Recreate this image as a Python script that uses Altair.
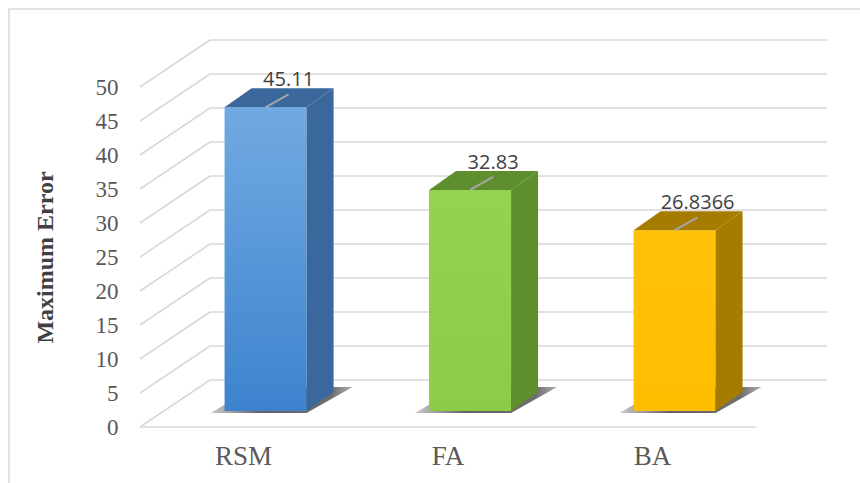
import altair as alt
import pandas as pd

# ---------------- data ----------------
categories = ["RSM", "FA", "BA"]
values = [45.11, 32.83, 26.8366]
value_labels = ["45.11", "32.83", "26.8366"]
y_ticks = [0, 5, 10, 15, 20, 25, 30, 35, 40, 45, 50]

# ---------------- style ----------------
front_top = ["#71aae2", "#94d252", "#ffc107"]
front_bottom = ["#3d83ce", "#8ccb48", "#ffbd00"]
side_colors = ["#3a679c", "#5e8e2d", "#a57c00"]
top_colors = ["#4f7eb5", "#6ba534", "#c39500"]
grid_color = "#d9d9d9"
SERIF = "Liberation Serif"

# geometry (pixels -> data units)
PX_X = 204.5            # pixels per category step
PX_Y = 6.8              # pixels per value unit
X_MIN, X_MAX = -0.614, 2.760
Y_MAX = 60
BACK_DX, BACK_DY = 70 / PX_X, 47 / PX_Y      # depth of the back wall
BAR_HALF = 41 / PX_X
BAR_DX, BAR_DY = 27 / PX_X, 19 / PX_Y        # bar depth
BAR_BASE = 16 / PX_Y                          # bar front-face bottom above floor line
BAR_SCALE = 0.99
FRONT_RIGHT = (756 - 265.5) / PX_X
BACK_RIGHT = (827 - 265.5) / PX_X

XS = alt.Scale(domain=[X_MIN, X_MAX], nice=False, zero=False)
YS = alt.Scale(domain=[0, Y_MAX], nice=False, zero=False)
YAX = alt.Axis(values=y_ticks, title="Maximum Error", grid=False, ticks=False, domain=False,
               labelFont=SERIF, labelFontSize=23, labelColor="#595959",
               labelPadding=22, titleFont=SERIF, titleFontSize=24,
               titleFontWeight="bold", titleColor="#404040", titlePadding=38, titleY=238)


def X(f="x"):
    return alt.X(f"{f}:Q", scale=XS, axis=None)


def Y(f="y"):
    return alt.Y(f"{f}:Q", scale=YS, axis=YAX, stack=None)


# ---------------- grid ----------------
grid_rows = []
for v in y_ticks:
    grid_rows.append(dict(x=X_MIN + BACK_DX, x2=BACK_RIGHT, y=v + BACK_DY, y2=v + BACK_DY))
    grid_rows.append(dict(x=X_MIN, x2=X_MIN + BACK_DX, y=v, y2=v + BACK_DY))
grid_rows.append(dict(x=X_MIN, x2=FRONT_RIGHT, y=0, y2=0))
grid = alt.Chart(pd.DataFrame(grid_rows)).mark_rule(color=grid_color, strokeWidth=1.6).encode(
    x=X(), x2="x2:Q", y=Y(), y2="y2:Q")

# ---------------- bars ----------------
rows_side, rows_top, rows_shadow, rows_front, rows_lab = [], [], [], [], []
for i, (c, v, lab) in enumerate(zip(categories, values, value_labels)):
    xl, xr = i - BAR_HALF, i + BAR_HALF
    base = BAR_BASE
    top = BAR_BASE + v * BAR_SCALE
    rows_front.append(dict(cat=c, x=xl, x2=xr, y=base, y2=top))
    rows_side += [dict(cat=c, x=xr, y=base, y2=top),
                  dict(cat=c, x=xr + BAR_DX, y=base + BAR_DY, y2=top + BAR_DY)]
    rows_top += [dict(cat=c, y=top, x=xl, x2=xr),
                 dict(cat=c, y=top + BAR_DY, x=xl + BAR_DX, x2=xr + BAR_DX)]
    rows_shadow += [dict(cat=c, y=base - 2 / PX_Y, x=xl - 14 / PX_X, x2=xr),
                    dict(cat=c, y=base + 24 / PX_Y, x=xl + 30 / PX_X, x2=xr + 46 / PX_X)]
    rows_lab.append(dict(cat=c, lab=lab, x=i, y=top, lx=i + 23 / PX_X, ly=top + 13 / PX_Y,
                         ty=top + 21 / PX_Y, tx=i + 23 / PX_X, cx=i - 22 / PX_X))

cat_scale_side = alt.Scale(domain=categories, range=side_colors)
cat_scale_top = alt.Scale(domain=categories, range=top_colors)

shadow_grad = alt.Gradient(gradient="linear", x1=0, x2=1, y1=0, y2=0,
                           stops=[alt.GradientStop(color="#bdbdbd", offset=0),
                                  alt.GradientStop(color="#3a3a3a", offset=0.35),
                                  alt.GradientStop(color="#4a4a4a", offset=0.85),
                                  alt.GradientStop(color="#9a9a9a", offset=1)])
shadow = alt.Chart(pd.DataFrame(rows_shadow)).mark_area(
    orient="horizontal", color=shadow_grad, opacity=0.8).encode(
    y=Y(), x=X(), x2="x2:Q", detail="cat:N")

fronts = []
df_front = pd.DataFrame(rows_front)
for i, c in enumerate(categories):
    grad = alt.Gradient(gradient="linear", x1=0, x2=0, y1=0, y2=1,
                        stops=[alt.GradientStop(color=front_top[i], offset=0),
                               alt.GradientStop(color=front_bottom[i], offset=1)])
    fronts.append(alt.Chart(df_front).transform_filter(alt.datum.cat == c).mark_rect(color=grad).encode(
        x=X(), x2="x2:Q", y=Y(), y2="y2:Q"))

side = alt.Chart(pd.DataFrame(rows_side)).mark_area(orient="vertical").encode(
    x=X(), y=Y(), y2="y2:Q",
    color=alt.Color("cat:N", scale=cat_scale_side, legend=None))

topf = alt.Chart(pd.DataFrame(rows_top)).mark_area(orient="horizontal").encode(
    y=Y(), x=X(), x2="x2:Q",
    color=alt.Color("cat:N", scale=cat_scale_top, legend=None))

df_lab = pd.DataFrame(rows_lab)
leader = alt.Chart(df_lab).mark_rule(color="#a6a6a6", strokeWidth=2).encode(
    x=X(), x2="lx:Q", y=Y(), y2="ly:Q")
vlabels = alt.Chart(df_lab).mark_text(font="Open Sans", fontSize=20, color="#404040",
                                      baseline="alphabetic", align="center").encode(
    x=X("tx"), y=Y("ty"), text="lab:N")
clabels = alt.Chart(df_lab).mark_text(font=SERIF, fontSize=27, color="#595959",
                                      baseline="alphabetic", align="center").encode(
    x=X("cx"), y=alt.value(446), text="cat:N")

border = alt.Chart(pd.DataFrame({"k": [0]})).mark_rect(
    fill="transparent", stroke="#d9d9d9", strokeWidth=1.5).encode(
    x=alt.value(-131), x2=alt.value(760), y=alt.value(-10), y2=alt.value(480))

chart = alt.layer(border, grid, shadow, *fronts, side, topf, leader, vlabels, clabels).properties(
    width=690, height=408,
    padding={"left": 140, "top": 19, "right": 30, "bottom": 56},
    autosize=alt.AutoSizeParams(type="none"),
    background="white",
).configure_view(stroke=None).configure_axis(labelFont=SERIF, titleFont=SERIF)

chart.save("out.html", embed_options={"renderer": "svg", "actions": False})
